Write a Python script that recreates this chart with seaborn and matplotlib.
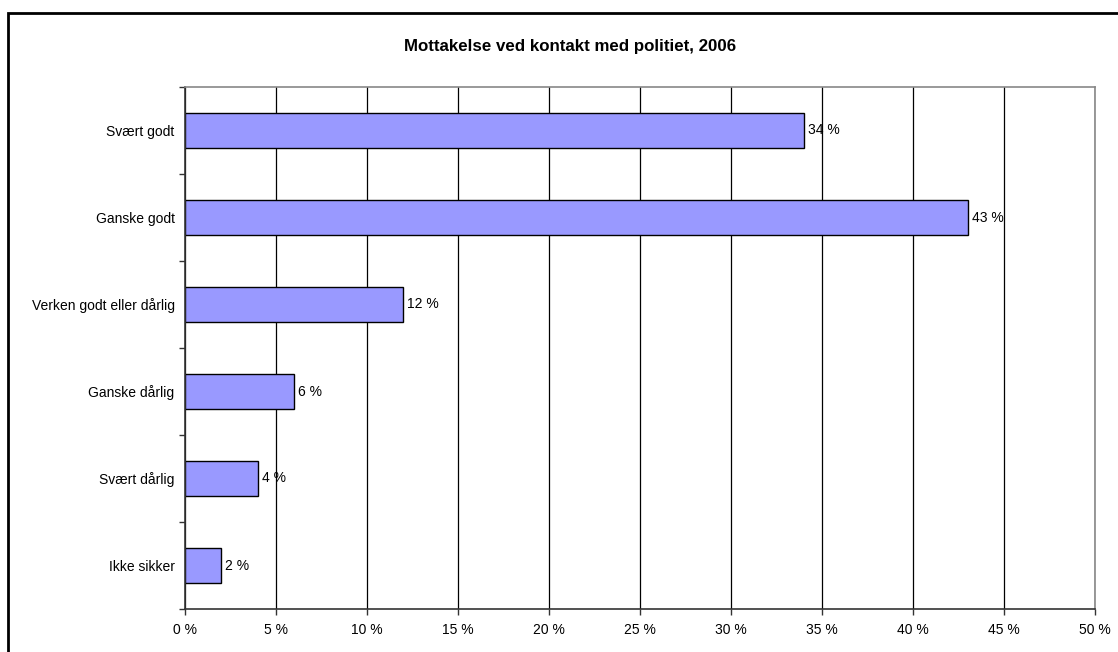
import pandas as pd
import matplotlib.pyplot as plt
import seaborn as sns
from matplotlib.patches import Rectangle

categories = ['Svært godt', 'Ganske godt', 'Verken godt eller dårlig',
              'Ganske dårlig', 'Svært dårlig', 'Ikke sikker']
values = [34, 43, 12, 6, 4, 2]
xticks = [0, 5, 10, 15, 20, 25, 30, 35, 40, 45, 50]

df = pd.DataFrame({'kategori': categories, 'andel': values})

sns.set_style('white', {'text.color': 'black', 'xtick.color': 'black',
                        'ytick.color': 'black', 'axes.labelcolor': 'black'})
plt.rcParams['font.family'] = ['Liberation Sans', 'DejaVu Sans']

fig = plt.figure(figsize=(11.18, 6.52), dpi=100)
ax = fig.add_axes([185 / 1118, 1 - 609 / 652, 910 / 1118, 522 / 652])

sns.barplot(data=df, x='andel', y='kategori', orient='h', color='#9999ff',
            saturation=1, width=0.4, edgecolor='black', linewidth=1, ax=ax)

for i, v in enumerate(values):
    ax.text(v + 0.22, i, f'{v} %', va='center', ha='left', fontsize=10, color='black')

ax.set_xlim(0, 50)
ax.set_ylim(5.5, -0.5)
ax.set_xticks(xticks)
ax.set_xticklabels([f'{t} %' for t in xticks], fontsize=10)
ax.set_yticks(range(len(categories)))
ax.set_yticklabels(categories, fontsize=10)
ax.set_yticks([i - 0.5 for i in range(len(categories) + 1)], minor=True)
ax.tick_params(axis='y', which='major', length=0, pad=7.5, labelcolor='black')
ax.tick_params(axis='y', which='minor', left=True, length=4, width=1, color='#333333')
ax.tick_params(axis='x', which='major', bottom=True, length=4, width=1,
               color='#333333', pad=6, labelcolor='black')
ax.set_xlabel('')
ax.set_ylabel('')

ax.set_axisbelow(True)
ax.grid(axis='x', color='black', linewidth=0.9)
ax.grid(axis='y', visible=False)
for side in ['left', 'bottom']:
    ax.spines[side].set_color('#333333')
    ax.spines[side].set_linewidth(1.2)
for side in ['top', 'right']:
    ax.spines[side].set_color('#888888')
    ax.spines[side].set_linewidth(1.2)

fig.text(570 / 1118, 1 - 46 / 652, 'Mottakelse ved kontakt med politiet, 2006',
         ha='center', va='center', fontsize=12.2, fontweight='bold', color='black')

fig.patches.append(Rectangle((8 / 1118, -0.05), 1.2, 1 - 13 / 652 + 0.05,
                             transform=fig.transFigure, fill=False,
                             edgecolor='black', linewidth=2))

fig.savefig('out.png', dpi=100)
